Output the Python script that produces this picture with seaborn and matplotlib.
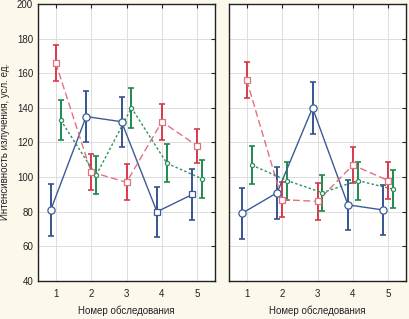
import pandas as pd
import seaborn as sns
import matplotlib.pyplot as plt

exams = [1, 2, 3, 4, 5]

# left panel
blue_left = [81, 135, 132, 80, 90]
blue_left_err = [15, 14.5, 14.5, 14.5, 14.5]
red_left = [166, 103, 97, 132, 118]
red_left_err = [10.5, 10.5, 10.5, 10.5, 10]
green_left = [133, 101, 140, 108, 99]
green_left_err = [11.5, 11, 11.5, 11, 11]

# right panel
blue_right = [79, 91, 140, 84, 81]
blue_right_err = [15, 15, 15, 14.5, 14.5]
red_right = [156, 87, 86, 107, 98]
red_right_err = [10.5, 10, 10.5, 10.5, 10.5]
green_right = [107, 98, 91, 98, 93]
green_right_err = [11, 11, 10.5, 11, 11]

ylabel = "Интенсивность излучения, усл. ед."
xlabel = "Номер обследования"

sns.set_style("white")
plt.rcParams["font.family"] = ["Liberation Sans", "DejaVu Sans"]
plt.rcParams["font.size"] = 7

bg = "#fcf9ec"
series = [
    ("blue", -0.14, "#3b5b98", "#36548f", "-", "o", 5.2),
    ("red", 0.0, "#e2717d", "#d83a4c", (0, (5, 2.5)), "s", 4.6),
    ("green", 0.14, "#2f8f5f", "#1f8a4c", (0, (1.8, 1.6)), "o", 3.0),
]

panels = [
    {"blue": (blue_left, blue_left_err), "red": (red_left, red_left_err),
     "green": (green_left, green_left_err)},
    {"blue": (blue_right, blue_right_err), "red": (red_right, red_right_err),
     "green": (green_right, green_right_err)},
]
blue_left_markers = ["o", "o", "o", "s", "s"]

fig = plt.figure(figsize=(4.09, 3.19), dpi=100, facecolor=bg)
ax1 = fig.add_axes([38 / 409, 38 / 319, 177 / 409, 277 / 319])
ax2 = fig.add_axes([229 / 409, 38 / 319, 177 / 409, 277 / 319])

for i, (ax, data) in enumerate(zip([ax1, ax2], panels)):
    ax.set_facecolor("white")
    for name, off, lc, ec, ls, mk, ms in series:
        vals, errs = data[name]
        df = pd.DataFrame({"x": [e + off for e in exams], "y": vals, "err": errs})
        ax.errorbar(df["x"], df["y"], yerr=df["err"], fmt="none", ecolor=ec,
                    elinewidth=1.4, capsize=2, capthick=1.2, zorder=3)
        sns.lineplot(data=df, x="x", y="y", ax=ax, color=lc, linestyle=ls,
                     linewidth=1.0, zorder=4, legend=False)
        if name == "blue" and i == 0:
            for xx, yy, m in zip(df["x"], df["y"], blue_left_markers):
                ax.plot(xx, yy, marker=m, ms=ms if m == "o" else ms - 0.6,
                        mfc="white", mec=lc, mew=0.9, zorder=5)
        else:
            ax.plot(df["x"], df["y"], ls="none", marker=mk, ms=ms,
                    mfc="white", mec=lc, mew=0.9, zorder=5)

    ax.set_xlim(0.5, 5.5)
    ax.set_ylim(40, 200)
    ax.set_xticks(exams)
    ax.set_yticks(range(40, 201, 20))
    ax.grid(True, color="#d8d8d8", linewidth=0.6)
    ax.tick_params(direction="in", length=3, width=0.8, top=True, right=True,
                   labelsize=7, colors="#222222")
    ax.tick_params(axis="x", pad=6)
    ax.tick_params(axis="y", pad=3.5)
    for s in ax.spines.values():
        s.set_color("#222222")
        s.set_linewidth(1.0)
    ax.set_xlabel("")
    ax.set_ylabel("")

ax2.tick_params(labelleft=False)

fig.text(5 / 409, 1 - 142 / 319, ylabel, rotation=90, ha="center",
         va="center", fontsize=7, color="#222222")
for left in (38, 229):
    fig.text((left + 88.5) / 409, 1 - 311 / 319, xlabel, ha="center",
             va="center", fontsize=7, color="#222222")

fig.savefig("out.png", dpi=100, facecolor=bg)
